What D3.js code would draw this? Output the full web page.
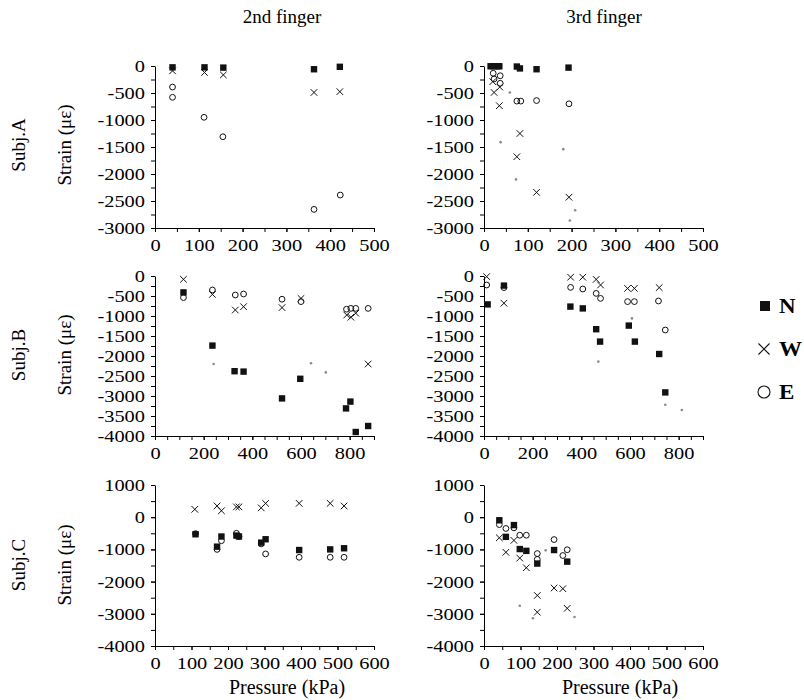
<!DOCTYPE html>
<html><head><meta charset="utf-8">
<script src="https://cdn.jsdelivr.net/npm/d3@7"></script>
<style>
body{margin:0;background:#fff}
text{font-family:"Liberation Serif","Times New Roman",serif;fill:#000}
</style>
</head><body>
<svg id="chart" width="804" height="700"></svg>
<script>
// ---- labels & ticks ----
const fingers = ["2nd finger", "3rd finger"];
const subjects = ["Subj.A", "Subj.B", "Subj.C"];
const legendLabels = ["N", "W", "E"];
const yTitle = "Strain (με)";
const xTitle = "Pressure (kPa)";

const xTicksA = [0, 100, 200, 300, 400, 500];
const xTicksB = [0, 200, 400, 600, 800];
const xTicksC = [0, 100, 200, 300, 400, 500, 600];
const yTicksA = [0, -500, -1000, -1500, -2000, -2500, -3000];
const yTicksB = [0, -500, -1000, -1500, -2000, -2500, -3000, -3500, -4000];
const yTicksC = [1000, 0, -1000, -2000, -3000, -4000];

// ---- data: [pressure kPa, strain με] ----
// Subj.A, 2nd finger
const A2_N = [[40,-25],[113,-25],[156,-30],[363,-60],[422,-15]];
const A2_W = [[40,-90],[113,-120],[156,-165],[363,-490],[422,-475]];
const A2_E = [[40,-390],[40,-580],[112,-950],[155,-1310],[363,-2655],[423,-2390]];
const A2_dot = [];
// Subj.A, 3rd finger
const A3_N = [[15,-5],[22,-5],[30,-5],[35,-5],[75,-10],[82,-45],[120,-60],[193,-30]];
const A3_W = [[20,-290],[23,-490],[36,-390],[35,-735],[82,-1250],[75,-1680],[120,-2340],[194,-2430]];
const A3_E = [[21,-135],[37,-180],[23,-240],[37,-320],[75,-650],[84,-650],[120,-640],[194,-700]];
const A3_dot = [[59,-490],[38,-1410],[73,-2100],[181,-1540],[208,-2670],[196,-2860]];
// Subj.B, 2nd finger
const B2_N = [[117,-410],[236,-1740],[327,-2380],[364,-2390],[522,-3060],[597,-2570],[785,-3310],[803,-3140],[825,-3900],[876,-3750]];
const B2_W = [[117,-83],[236,-460],[330,-850],[364,-767],[522,-790],[600,-560],[788,-975],[805,-1030],[825,-930],[876,-2200]];
const B2_E = [[117,-540],[236,-350],[330,-475],[364,-450],[522,-580],[600,-640],[787,-830],[805,-810],[825,-810],[876,-810]];
const B2_dot = [[241,-2200],[641,-2180],[702,-2410],[828,-3900]];
// Subj.B, 3rd finger
const B3_N = [[15,-710],[82,-240],[355,-765],[406,-810],[461,-1330],[477,-1640],[595,-1240],[620,-1640],[720,-1950],[745,-2910]];
const B3_W = [[11,-15],[82,-680],[356,-30],[406,-30],[461,-85],[479,-225],[590,-310],[618,-310],[720,-290]];
const B3_E = [[11,-225],[82,-290],[356,-285],[406,-325],[461,-435],[479,-560],[590,-640],[618,-640],[717,-625],[745,-1350]];
const B3_dot = [[608,-1060],[470,-2140],[745,-3220],[813,-3350]];
// Subj.C, 2nd finger
const C2_N = [[111,-530],[170,-915],[182,-600],[223,-570],[230,-600],[291,-790],[303,-685],[395,-1020],[480,-1000],[518,-965]];
const C2_W = [[109,245],[170,350],[182,200],[223,320],[230,320],[291,290],[303,430],[395,430],[480,430],[518,350]];
const C2_E = [[111,-510],[170,-1000],[182,-730],[223,-500],[230,-600],[291,-830],[303,-1140],[395,-1245],[480,-1245],[518,-1245]];
const C2_dot = [];
// Subj.C, 3rd finger
const C3_N = [[42,-95],[60,-610],[82,-245],[98,-990],[116,-1045],[146,-1440],[192,-1020],[228,-1380]];
const C3_W = [[42,-640],[60,-1090],[82,-720],[98,-1270],[116,-1570],[146,-2430],[146,-2950],[192,-2200],[216,-2220],[228,-2830]];
const C3_E = [[42,-230],[60,-350],[82,-330],[98,-560],[116,-560],[146,-1130],[146,-1310],[192,-695],[216,-1190],[228,-1010]];
const C3_dot = [[98,-2750],[134,-3140],[169,-1030],[248,-3100]];

// ---- layout ----
const svg = d3.select("#chart");
const colX = [[155, 374], [484, 703]];
const rowY = [[228, 66], [436, 276], [646, 485]];
const SX = 1.2; // horizontal stretch of tick text
const FONT = '"Liberation Serif","Times New Roman",serif';
const rows = [
  {xd:[0,500], yd:[-3000,0], xt:xTicksA, yt:yTicksA, xm:50, ym:250,
   sets:[[A2_N,A2_W,A2_E,A2_dot],[A3_N,A3_W,A3_E,A3_dot]]},
  {xd:[0,900], yd:[-4000,0], xt:xTicksB, yt:yTicksB, xm:50, ym:250,
   sets:[[B2_N,B2_W,B2_E,B2_dot],[B3_N,B3_W,B3_E,B3_dot]]},
  {xd:[0,600], yd:[-4000,1000], xt:xTicksC, yt:yTicksC, xm:50, ym:500,
   sets:[[C2_N,C2_W,C2_E,C2_dot],[C3_N,C3_W,C3_E,C3_dot]]}
];

function styleAxis(g){
  g.attr("font-family", FONT);
  g.selectAll("path.domain").attr("stroke","#000").attr("stroke-width",1);
  g.selectAll("line").attr("stroke","#000").attr("stroke-width",1);
}

function crossPath(px, py, h){
  return `M${px-h},${py-h}L${px+h},${py+h}M${px-h},${py+h}L${px+h},${py-h}`;
}

rows.forEach((r, ri) => {
  [0,1].forEach(ci => {
    const x = d3.scaleLinear().domain(r.xd).range(colX[ci]);
    const y = d3.scaleLinear().domain(r.yd).range(rowY[ri]);
    const g = svg.append("g");
    const xMinor = d3.range(r.xd[0], r.xd[1] + 1, r.xm);
    const yMinor = d3.range(r.yd[0], r.yd[1] + 1, r.ym);

    // x axis
    const gx = g.append("g").attr("transform", `translate(0,${y(r.yd[0])})`);
    gx.call(d3.axisBottom(x).tickValues(xMinor).tickSize(4).tickSizeOuter(0).tickFormat(""));
    const gx2 = g.append("g").attr("transform", `translate(0,${y(r.yd[0])})`);
    gx2.call(d3.axisBottom(x).tickValues(r.xt).tickSize(4).tickSizeOuter(0).tickPadding(7).tickFormat(d => String(d)));
    gx2.select("path.domain").remove();
    gx2.selectAll("text").attr("font-size", 17).attr("transform", `scale(${SX},1)`);
    styleAxis(gx); styleAxis(gx2);

    // y axis
    const gy = g.append("g").attr("transform", `translate(${x(0)},0)`);
    gy.call(d3.axisLeft(y).tickValues(yMinor).tickSize(4).tickSizeOuter(0).tickFormat(""));
    const gy2 = g.append("g").attr("transform", `translate(${x(0)},0)`);
    gy2.call(d3.axisLeft(y).tickValues(r.yt).tickSize(4).tickSizeOuter(0).tickPadding(6).tickFormat(d => String(d)));
    gy2.select("path.domain").remove();
    gy2.selectAll("text").attr("font-size", 17)
      .attr("x", -10 / SX).attr("transform", `scale(${SX},1)`);
    styleAxis(gy); styleAxis(gy2);

    const [N, W, E, dots] = r.sets[ci];
    // gray small dots
    g.selectAll(".dot").data(dots).enter().append("circle")
      .attr("cx", d => x(d[0])).attr("cy", d => y(d[1])).attr("r", 1.3)
      .attr("fill", "#8a8a8a");
    // N: filled squares
    g.selectAll(".n").data(N).enter().append("rect")
      .attr("x", d => x(d[0]) - 3.2).attr("y", d => y(d[1]) - 3.2)
      .attr("width", 6.4).attr("height", 6.4).attr("fill", "#111");
    // W: crosses
    g.selectAll(".w").data(W).enter().append("path")
      .attr("d", d => crossPath(x(d[0]), y(d[1]), 3.3))
      .attr("stroke", "#111").attr("stroke-width", 1).attr("fill", "none");
    // E: open circles
    g.selectAll(".e").data(E).enter().append("circle")
      .attr("cx", d => x(d[0])).attr("cy", d => y(d[1])).attr("r", 2.9)
      .attr("fill", "none").attr("stroke", "#111").attr("stroke-width", 1);
  });
});

// column titles
const titleX = [282, 604];
fingers.forEach((f, i) => {
  svg.append("text").attr("x", titleX[i]).attr("y", 23).attr("text-anchor", "middle")
    .attr("font-size", 19).text(f);
});

// row labels
const rowCenter = [145, 355, 565];
subjects.forEach((s, i) => {
  svg.append("text").attr("transform", `translate(25,${rowCenter[i]}) rotate(-90)`)
    .attr("text-anchor", "middle").attr("font-size", 19).text(s);
  svg.append("text").attr("transform", `translate(71,${rowCenter[i]}) rotate(-90)`)
    .attr("text-anchor", "middle").attr("font-size", 19).text(yTitle);
});

// x titles
[287, 620].forEach(cx => {
  svg.append("text").attr("x", cx).attr("y", 694).attr("text-anchor", "middle")
    .attr("font-size", 20).text(xTitle);
});

// legend
const legY = [306, 349, 392];
const lg = svg.append("g");
lg.append("rect").attr("x", 765 - 5).attr("y", legY[0] - 5).attr("width", 10).attr("height", 10).attr("fill", "#111");
lg.append("path").attr("d", crossPath(764, legY[1], 5.5)).attr("stroke", "#111").attr("stroke-width", 1.1).attr("fill", "none");
lg.append("circle").attr("cx", 764).attr("cy", legY[2]).attr("r", 6).attr("fill", "none").attr("stroke", "#111").attr("stroke-width", 1.1);
legendLabels.forEach((t, i) => {
  lg.append("text").attr("transform", `translate(779,${legY[i] + 7}) scale(1.15,1)`)
    .attr("font-size", 20).attr("font-weight", "bold").text(t);
});
</script>
</body></html>
